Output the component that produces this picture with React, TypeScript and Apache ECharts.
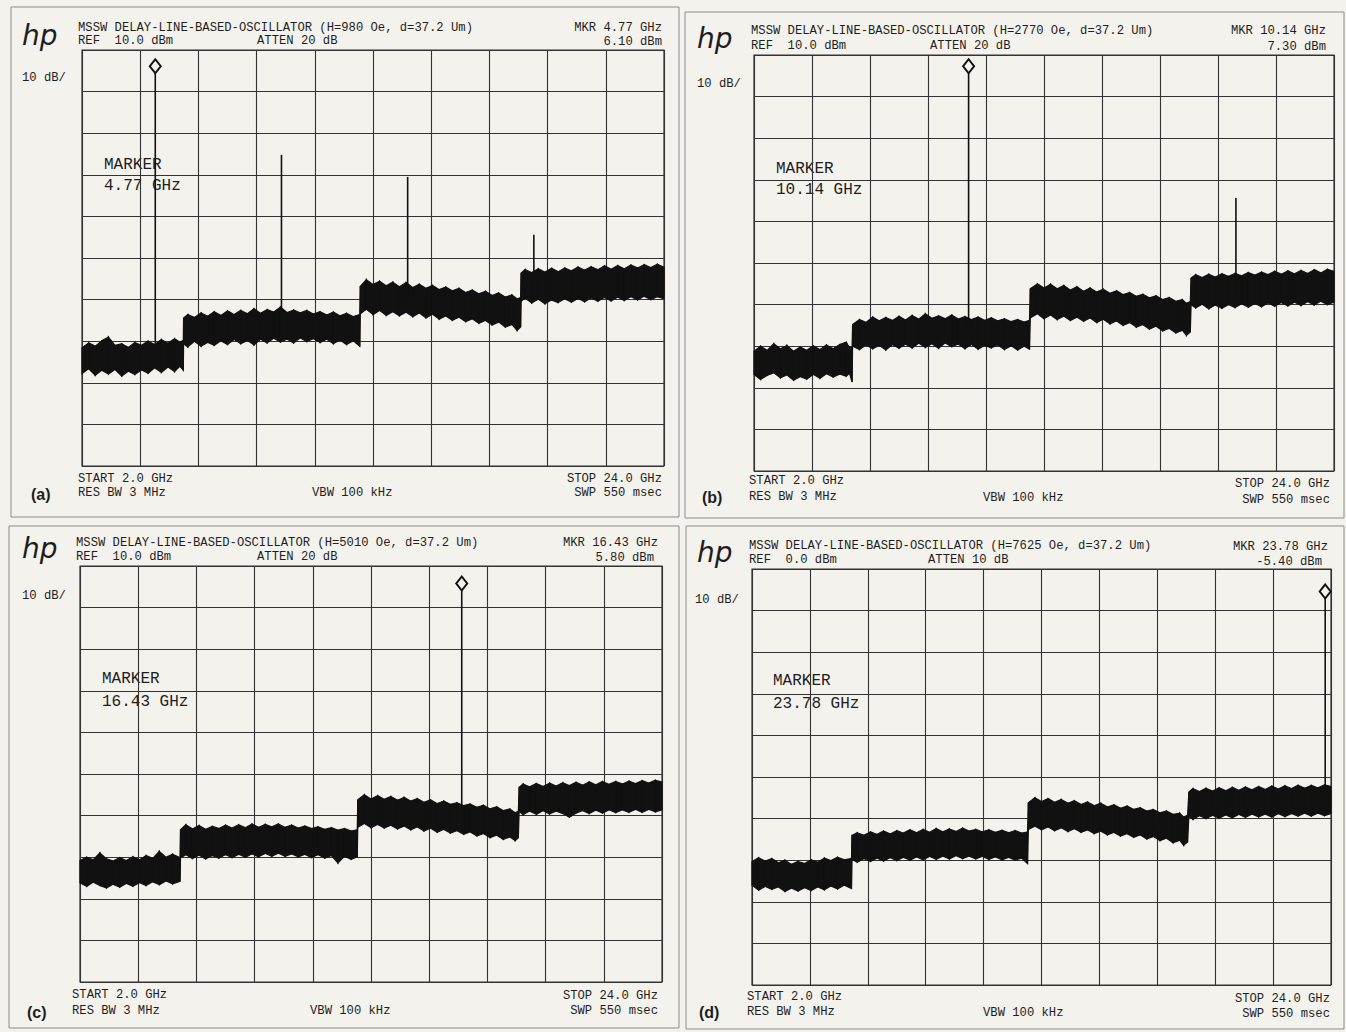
import React, { useEffect, useRef } from "react";
import * as echarts from "echarts";

// ---------- DATA ----------
const START_GHZ = 2;
const STOP_GHZ = 24;
const refLevels = [10, 10, 10, 0];

// noise-band envelope of each trace: [GHz, lower dBm, upper dBm]
const traceA: number[][] = [
  [2.0, -67.8, -61.6], [2.25, -66.6, -60.4], [2.5, -68.2, -61.2], [2.75, -67.0, -59.9], [3.0, -67.9, -59.0],
  [3.25, -66.8, -61.0], [3.5, -68.4, -60.6], [3.75, -67.2, -61.5], [4.0, -68.0, -60.3], [4.25, -66.9, -61.0],
  [4.5, -67.7, -60.0], [4.75, -66.4, -60.8], [5.0, -67.5, -59.6], [5.25, -66.2, -60.5], [5.5, -67.3, -59.4],
  [5.7, -66.0, -60.2], [5.83, -67.0, -59.8],
  [5.84, -60.6, -54.4], [6.0, -61.4, -53.6], [6.25, -60.0, -54.3], [6.5, -61.2, -53.2], [6.75, -60.3, -54.0],
  [7.0, -61.0, -52.9], [7.25, -59.9, -53.8], [7.5, -60.8, -52.7], [7.75, -59.6, -53.6], [8.0, -60.6, -52.6],
  [8.25, -59.8, -53.4], [8.5, -60.9, -52.2], [8.75, -59.5, -53.3], [9.0, -60.4, -52.4], [9.25, -59.3, -53.0],
  [9.5, -60.2, -51.8], [9.75, -59.5, -53.1], [10.0, -60.4, -52.5], [10.25, -59.2, -53.2], [10.5, -60.1, -52.6],
  [10.75, -59.4, -53.5], [11.0, -60.3, -52.9], [11.25, -59.5, -53.7], [11.5, -60.6, -53.0], [11.75, -59.7, -53.9],
  [12.0, -60.8, -53.3], [12.25, -59.9, -54.1], [12.5, -61.2, -53.6],
  [12.52, -53.4, -46.8], [12.75, -52.3, -45.2], [13.0, -53.6, -46.4], [13.25, -52.6, -45.6], [13.5, -53.8, -46.7],
  [13.75, -52.9, -45.8], [14.0, -53.9, -46.9], [14.25, -53.0, -45.9], [14.5, -54.1, -47.1], [14.75, -53.2, -46.3],
  [15.0, -54.4, -47.3], [15.25, -53.5, -46.6], [15.5, -54.7, -47.6], [15.75, -53.9, -47.0], [16.0, -55.0, -47.9],
  [16.25, -54.2, -47.3], [16.5, -55.3, -48.3], [16.75, -54.6, -47.7], [17.0, -55.7, -48.6], [17.25, -55.0, -48.0],
  [17.5, -56.1, -49.0], [17.75, -55.4, -48.4], [18.0, -56.6, -49.4], [18.25, -56.0, -48.9], [18.45, -57.4, -49.8],
  [18.58, -56.6, -49.5],
  [18.6, -50.4, -43.6], [18.75, -49.6, -42.8], [19.0, -50.8, -43.5], [19.25, -49.9, -42.6], [19.5, -51.0, -43.4],
  [19.75, -50.1, -42.5], [20.0, -50.7, -43.3], [20.25, -49.8, -42.4], [20.5, -50.6, -43.1], [20.75, -49.7, -42.2],
  [21.0, -50.5, -42.9], [21.25, -49.6, -42.1], [21.5, -50.4, -42.8], [21.75, -49.5, -41.9], [22.0, -50.3, -42.7],
  [22.25, -49.4, -41.8], [22.5, -50.2, -42.6], [22.75, -49.3, -41.7], [23.0, -50.1, -42.4], [23.25, -49.2, -41.6],
  [23.5, -50.0, -42.3], [23.75, -49.3, -41.5], [24.0, -49.8, -42.2],
];

const traceB: number[][] = [
  [2.0, -66.8, -61.2], [2.25, -68.0, -60.0], [2.5, -67.0, -61.0], [2.75, -66.4, -59.4], [3.0, -67.6, -60.6],
  [3.25, -66.9, -59.8], [3.5, -68.2, -61.2], [3.75, -67.3, -60.2], [4.0, -67.9, -61.0], [4.25, -66.8, -59.9],
  [4.5, -67.7, -60.8], [4.75, -66.6, -59.7], [5.0, -67.4, -60.6], [5.25, -66.7, -59.6], [5.5, -67.2, -59.0],
  [5.62, -66.5, -60.4], [5.72, -68.6, -60.2],
  [5.74, -60.0, -54.8], [6.0, -60.8, -53.6], [6.25, -59.7, -54.3], [6.5, -60.6, -53.0], [6.75, -59.8, -53.9],
  [7.0, -60.9, -53.1], [7.25, -59.6, -53.8], [7.5, -60.5, -52.8], [7.75, -59.5, -53.7], [8.0, -60.4, -52.6],
  [8.25, -59.3, -53.5], [8.5, -60.3, -52.2], [8.75, -59.4, -53.3], [9.0, -60.5, -52.7], [9.25, -59.2, -53.4],
  [9.5, -60.1, -52.5], [9.75, -59.5, -53.5], [10.0, -60.6, -52.9], [10.25, -59.6, -53.6], [10.5, -60.7, -53.0],
  [10.75, -59.8, -53.8], [11.0, -60.4, -53.2], [11.25, -59.7, -53.9], [11.5, -60.8, -53.4], [11.75, -59.9, -54.1],
  [12.0, -60.9, -53.6], [12.25, -60.0, -54.2], [12.45, -60.7, -53.8],
  [12.48, -53.2, -46.2], [12.75, -52.2, -45.0], [13.0, -53.4, -46.0], [13.25, -52.5, -45.1], [13.5, -53.6, -46.2],
  [13.75, -52.8, -45.4], [14.0, -53.8, -46.5], [14.25, -53.0, -45.7], [14.5, -54.0, -46.8], [14.75, -53.2, -46.0],
  [15.0, -54.3, -47.0], [15.25, -53.5, -46.3], [15.5, -54.6, -47.3], [15.75, -53.9, -46.7], [16.0, -55.0, -47.6],
  [16.25, -54.3, -47.1], [16.5, -55.4, -48.0], [16.75, -54.8, -47.5], [17.0, -55.9, -48.4], [17.25, -55.2, -47.9],
  [17.5, -56.3, -48.8], [17.75, -55.7, -48.3], [18.0, -56.8, -49.2], [18.25, -56.2, -48.8], [18.4, -57.4, -49.7],
  [18.55, -56.6, -49.3],
  [18.58, -50.0, -43.6], [18.75, -50.8, -42.8], [19.0, -49.9, -43.5], [19.25, -51.0, -42.7], [19.5, -50.1, -43.4],
  [19.75, -50.9, -42.6], [20.0, -50.0, -43.2], [20.25, -50.7, -42.5], [20.5, -49.8, -43.1], [20.75, -50.6, -42.3],
  [21.0, -49.7, -42.9], [21.25, -50.5, -42.2], [21.5, -49.6, -42.8], [21.75, -50.4, -42.0], [22.0, -49.5, -42.7],
  [22.25, -50.3, -41.9], [22.5, -49.4, -42.6], [22.75, -50.2, -41.8], [23.0, -49.3, -42.5], [23.25, -50.1, -41.6],
  [23.5, -49.2, -42.4], [23.75, -50.0, -41.5], [24.0, -49.4, -42.0],
];

const traceC: number[][] = [
  [2.0, -66.2, -60.8], [2.25, -67.0, -60.0], [2.5, -66.0, -60.6], [2.75, -66.8, -59.0], [3.0, -67.4, -60.4],
  [3.25, -66.5, -60.9], [3.5, -67.2, -60.1], [3.75, -66.3, -60.8], [4.0, -67.0, -59.9], [4.25, -66.1, -60.6],
  [4.5, -66.8, -59.6], [4.75, -65.9, -60.3], [5.0, -66.6, -58.6], [5.25, -65.7, -60.0], [5.5, -66.4, -59.3],
  [5.78, -65.8, -60.1],
  [5.8, -60.2, -53.4], [6.0, -59.4, -52.2], [6.25, -60.3, -53.2], [6.5, -59.5, -52.4], [6.75, -60.4, -53.3],
  [7.0, -59.6, -52.6], [7.25, -60.2, -53.1], [7.5, -59.4, -52.3], [7.75, -60.1, -53.0], [8.0, -59.3, -52.2],
  [8.25, -60.0, -52.9], [8.5, -59.2, -52.0], [8.75, -59.9, -52.8], [9.0, -59.1, -52.1], [9.25, -59.8, -52.7],
  [9.5, -59.0, -52.0], [9.75, -59.8, -52.8], [10.0, -59.2, -52.3], [10.25, -59.9, -53.0], [10.5, -59.3, -52.5],
  [10.75, -60.1, -53.1], [11.0, -59.4, -52.7], [11.25, -60.2, -53.3], [11.5, -59.6, -52.9], [11.75, -61.4, -53.5],
  [12.0, -59.8, -53.1], [12.25, -60.5, -53.7], [12.48, -59.9, -53.4],
  [12.5, -52.8, -46.2], [12.75, -51.9, -45.0], [13.0, -52.9, -46.0], [13.25, -52.1, -45.2], [13.5, -53.0, -46.1],
  [13.75, -52.3, -45.4], [14.0, -53.2, -46.3], [14.25, -52.5, -45.6], [14.5, -53.4, -46.5], [14.75, -52.7, -45.9],
  [15.0, -53.7, -46.8], [15.25, -53.0, -46.2], [15.5, -54.0, -47.1], [15.75, -53.3, -46.5], [16.0, -54.2, -47.3],
  [16.25, -53.6, -46.9], [16.5, -54.5, -47.6], [16.75, -53.9, -47.2], [17.0, -54.9, -48.0], [17.25, -54.3, -47.5],
  [17.5, -55.3, -48.4], [17.75, -54.7, -47.9], [18.0, -55.7, -48.8], [18.25, -55.1, -48.4], [18.45, -56.0, -49.3],
  [18.57, -55.3, -48.9],
  [18.6, -49.0, -43.2], [18.75, -49.8, -42.4], [19.0, -48.9, -43.1], [19.25, -49.7, -42.3], [19.5, -48.8, -43.0],
  [19.75, -49.6, -42.2], [20.0, -48.9, -42.9], [20.25, -49.5, -42.1], [20.5, -50.4, -42.8], [20.75, -49.4, -42.0],
  [21.0, -48.8, -42.7], [21.25, -49.5, -41.9], [21.5, -48.7, -42.6], [21.75, -49.4, -41.8], [22.0, -48.6, -42.5],
  [22.25, -49.3, -41.8], [22.5, -48.6, -42.4], [22.75, -49.2, -41.7], [23.0, -48.5, -42.3], [23.25, -49.2, -41.6],
  [23.5, -48.5, -42.2], [23.75, -49.1, -41.5], [24.0, -48.6, -41.9],
];

const traceD: number[][] = [
  [2.0, -76.0, -70.4], [2.25, -77.2, -69.4], [2.5, -76.3, -70.2], [2.75, -77.0, -69.6], [3.0, -76.4, -70.6],
  [3.25, -77.5, -70.0], [3.5, -76.7, -71.0], [3.75, -77.4, -70.3], [4.0, -76.6, -70.8], [4.25, -77.3, -69.9],
  [4.5, -76.4, -70.5], [4.75, -77.1, -69.5], [5.0, -76.2, -70.1], [5.25, -76.9, -69.3], [5.5, -76.0, -69.9],
  [5.78, -76.8, -69.6],
  [5.8, -69.8, -64.0], [6.0, -70.5, -63.4], [6.25, -69.6, -64.0], [6.5, -70.3, -63.2], [6.75, -69.5, -63.8],
  [7.0, -70.2, -63.0], [7.25, -69.4, -63.7], [7.5, -70.1, -62.9], [7.75, -69.3, -63.5], [8.0, -70.0, -62.7],
  [8.25, -69.2, -63.4], [8.5, -69.9, -62.6], [8.75, -69.1, -63.3], [9.0, -69.8, -62.4], [9.25, -69.0, -63.2],
  [9.5, -69.7, -62.5], [9.75, -68.9, -63.1], [10.0, -69.6, -62.3], [10.25, -69.0, -63.0], [10.5, -69.7, -62.6],
  [10.75, -69.1, -63.2], [11.0, -69.8, -62.7], [11.25, -69.2, -63.3], [11.5, -69.9, -62.8], [11.75, -69.3, -63.4],
  [12.0, -70.0, -62.9], [12.25, -69.5, -63.5], [12.47, -70.8, -63.2],
  [12.5, -62.6, -56.2], [12.75, -61.8, -55.0], [13.0, -62.7, -55.9], [13.25, -62.0, -55.2], [13.5, -62.9, -56.1],
  [13.75, -62.2, -55.4], [14.0, -63.1, -56.3], [14.25, -62.4, -55.7], [14.5, -63.3, -56.6], [14.75, -62.7, -56.0],
  [15.0, -63.6, -56.9], [15.25, -63.0, -56.3], [15.5, -63.9, -57.2], [15.75, -63.3, -56.7], [16.0, -64.2, -57.5],
  [16.25, -63.6, -57.0], [16.5, -64.5, -57.8], [16.75, -63.9, -57.4], [17.0, -64.9, -58.2], [17.25, -64.3, -57.8],
  [17.5, -65.3, -58.6], [17.75, -64.7, -58.2], [18.0, -65.8, -59.0], [18.25, -65.2, -58.7], [18.4, -66.4, -59.6],
  [18.55, -65.6, -59.2],
  [18.6, -59.5, -53.6], [18.75, -60.2, -52.8], [19.0, -59.3, -53.5], [19.25, -60.0, -52.7], [19.5, -59.2, -53.4],
  [19.75, -59.9, -52.6], [20.0, -59.1, -53.3], [20.25, -59.8, -52.5], [20.5, -59.0, -53.2], [20.75, -59.7, -52.4],
  [21.0, -58.9, -53.1], [21.25, -59.6, -52.3], [21.5, -58.9, -53.0], [21.75, -59.6, -52.2], [22.0, -58.8, -52.9],
  [22.25, -59.5, -52.1], [22.5, -58.8, -52.8], [22.75, -59.4, -52.0], [23.0, -58.7, -52.7], [23.25, -59.4, -52.0],
  [23.5, -58.7, -52.6], [23.75, -59.3, -51.9], [24.0, -58.8, -52.3],
];

// harmonic spikes: [GHz, base dBm, peak dBm]
const spikesA: number[][] = [[9.54, -58, -15.2], [14.31, -50, -20.5], [19.08, -46, -34.4]];
const spikesB: number[][] = [[20.28, -48, -24.4]];
const spikesC: number[][] = [];
const spikesD: number[][] = [];

// marker: [GHz, base dBm, peak dBm]
const markerA = [4.77, -64, 6.1];
const markerB = [10.14, -57, 7.3];
const markerC = [16.43, -48, 5.8];
const markerD = [23.78, -56, -5.4];

const titles = [
  "MSSW DELAY-LINE-BASED-OSCILLATOR (H=980 Oe, d=37.2 Um)",
  "MSSW DELAY-LINE-BASED-OSCILLATOR (H=2770 Oe, d=37.2 Um)",
  "MSSW DELAY-LINE-BASED-OSCILLATOR (H=5010 Oe, d=37.2 Um)",
  "MSSW DELAY-LINE-BASED-OSCILLATOR (H=7625 Oe, d=37.2 Um)",
];
const refTexts = ["REF  10.0 dBm", "REF  10.0 dBm", "REF  10.0 dBm", "REF  0.0 dBm"];
const attenTexts = ["ATTEN 20 dB", "ATTEN 20 dB", "ATTEN 20 dB", "ATTEN 10 dB"];
const mkrFreqTexts = ["MKR 4.77 GHz", "MKR 10.14 GHz", "MKR 16.43 GHz", "MKR 23.78 GHz"];
const mkrLevelTexts = ["6.10 dBm", "7.30 dBm", "5.80 dBm", "-5.40 dBm"];
const markerTexts = ["4.77 GHz", "10.14 GHz", "16.43 GHz", "23.78 GHz"];
const panelLabels = ["(a)", "(b)", "(c)", "(d)"];

// ---------- LAYOUT ----------
const layouts = [
  {
    frame: [11, 7, 668, 510], grid: [82, 50, 582, 416], hp: [22, 35], title: [78, 28], ref: [78, 41], atten: [257, 41],
    mkrR: [662, 28], mkrL: [662, 42], dbdiv: [22, 78], start: [78, 479], res: [78, 493], vbw: [312, 493],
    stop: [662, 479], swp: [662, 493], label: [31, 494], marker: [104, 165], markerF: [104, 186],
  },
  {
    frame: [685, 12, 659, 506], grid: [754, 55, 580, 416], hp: [697, 38], title: [751, 31], ref: [751, 46], atten: [930, 46],
    mkrR: [1326, 31], mkrL: [1326, 47], dbdiv: [697, 84], start: [749, 481], res: [749, 497], vbw: [983, 498],
    stop: [1330, 484], swp: [1330, 500], label: [702, 497], marker: [776, 169], markerF: [776, 190],
  },
  {
    frame: [9, 526, 670, 502], grid: [80, 566, 582, 416], hp: [22, 548], title: [76, 543], ref: [76, 557], atten: [257, 557],
    mkrR: [658, 543], mkrL: [654, 558], dbdiv: [22, 596], start: [72, 995], res: [72, 1011], vbw: [310, 1011],
    stop: [658, 996], swp: [658, 1011], label: [27, 1012], marker: [102, 679], markerF: [102, 702],
  },
  {
    frame: [686, 526, 658, 503], grid: [752, 569, 579, 416], hp: [697, 552], title: [749, 546], ref: [749, 560], atten: [928, 560],
    mkrR: [1328, 547], mkrL: [1322, 562], dbdiv: [695, 600], start: [747, 997], res: [747, 1012], vbw: [983, 1013],
    stop: [1330, 999], swp: [1330, 1014], label: [699, 1012], marker: [773, 681], markerF: [773, 704],
  },
];

const PAPER = "#f4f2ed";
const INK = "#111111";
const GRID = "#333333";
const TEXT = "#1e1e1e";
const MONO = '"Liberation Mono", "DejaVu Sans Mono", monospace';

function txt(x: number, y: number, text: string, size: number, align = "left", family = MONO, weight = "normal", style = "normal") {
  return {
    type: "text",
    x,
    y,
    silent: true,
    style: {
      text,
      fill: TEXT,
      font: `${style} ${weight} ${size}px ${family}`,
      textAlign: align,
      align,
      textVerticalAlign: "middle",
      verticalAlign: "middle",
    },
  };
}

function buildOption() {
  const traces = [traceA, traceB, traceC, traceD];
  const spikes = [spikesA, spikesB, spikesC, spikesD];
  const markers = [markerA, markerB, markerC, markerD];

  const grids: any[] = [];
  const xAxes: any[] = [];
  const yAxes: any[] = [];
  const series: any[] = [];
  const graphics: any[] = [];

  layouts.forEach((L, i) => {
    const [gl, gt, gw, gh] = L.grid;
    grids.push({ left: gl, top: gt, width: gw, height: gh, show: true, borderColor: GRID, borderWidth: 1.2, backgroundColor: "transparent" });
    // graticule axis (10 divisions)
    xAxes.push({
      gridIndex: i, type: "value", min: 0, max: 10, interval: 1,
      axisLabel: { show: false }, axisTick: { show: false }, axisLine: { show: false },
      splitLine: { show: true, lineStyle: { color: GRID, width: 1.1 } },
    });
    // frequency axis
    xAxes.push({ gridIndex: i, type: "value", min: START_GHZ, max: STOP_GHZ, show: false });
    yAxes.push({
      gridIndex: i, type: "value", min: refLevels[i] - 100, max: refLevels[i], interval: 10,
      axisLabel: { show: false }, axisTick: { show: false }, axisLine: { show: false },
      splitLine: { show: true, lineStyle: { color: GRID, width: 1.1 } },
    });

    const tr = traces[i];
    const segs: number[][] = [];
    for (let j = 0; j < tr.length - 1; j++) {
      segs.push([tr[j][0], tr[j][1], tr[j][2], tr[j + 1][0], tr[j + 1][1], tr[j + 1][2]]);
    }
    series.push({
      type: "custom",
      xAxisIndex: 2 * i + 1,
      yAxisIndex: i,
      data: segs,
      silent: true,
      z: 3,
      renderItem: (_p: any, api: any) => {
        const a = api.coord([api.value(0), api.value(2)]);
        const b = api.coord([api.value(3), api.value(5)]);
        const c = api.coord([api.value(3), api.value(4)]);
        const d = api.coord([api.value(0), api.value(1)]);
        return {
          type: "polygon",
          shape: { points: [a, b, c, d] },
          style: { fill: INK, stroke: INK, lineWidth: 1.2 },
        };
      },
    });

    const mk = markers[i];
    const spikeData = spikes[i].concat([mk]);
    series.push({
      type: "custom",
      xAxisIndex: 2 * i + 1,
      yAxisIndex: i,
      data: spikeData,
      silent: true,
      z: 4,
      renderItem: (_p: any, api: any) => {
        const p0 = api.coord([api.value(0), api.value(1)]);
        const p1 = api.coord([api.value(0), api.value(2)]);
        return {
          type: "line",
          shape: { x1: p0[0], y1: p0[1], x2: p1[0], y2: p1[1] },
          style: { stroke: INK, lineWidth: 1.6 },
        };
      },
    });
    series.push({
      type: "scatter",
      xAxisIndex: 2 * i + 1,
      yAxisIndex: i,
      data: [[mk[0], mk[2]]],
      symbol: "diamond",
      symbolSize: [11, 14],
      silent: true,
      z: 6,
      itemStyle: { color: PAPER, borderColor: INK, borderWidth: 2, opacity: 1 },
    });

    // frame
    const [fx, fy, fw, fh] = L.frame;
    graphics.push({ type: "rect", silent: true, z: 0, shape: { x: fx, y: fy, width: fw, height: fh }, style: { fill: "none", stroke: "#8c8c8c", lineWidth: 1 } });

    graphics.push(txt(L.hp[0], L.hp[1], "hp", 28, "left", '"DejaVu Sans", sans-serif', "normal", "italic"));
    graphics.push(txt(L.title[0], L.title[1], titles[i], 12.2));
    graphics.push(txt(L.ref[0], L.ref[1], refTexts[i], 12.2));
    graphics.push(txt(L.atten[0], L.atten[1], attenTexts[i], 12.2));
    graphics.push(txt(L.mkrR[0], L.mkrR[1], mkrFreqTexts[i], 12.2, "right"));
    graphics.push(txt(L.mkrL[0], L.mkrL[1], mkrLevelTexts[i], 12.2, "right"));
    graphics.push(txt(L.dbdiv[0], L.dbdiv[1], "10 dB/", 12.2));
    graphics.push(txt(L.start[0], L.start[1], "START 2.0 GHz", 12.2));
    graphics.push(txt(L.res[0], L.res[1], "RES BW 3 MHz", 12.2));
    graphics.push(txt(L.vbw[0], L.vbw[1], "VBW 100 kHz", 12.2));
    graphics.push(txt(L.stop[0], L.stop[1], "STOP 24.0 GHz", 12.2, "right"));
    graphics.push(txt(L.swp[0], L.swp[1], "SWP 550 msec", 12.2, "right"));
    graphics.push(txt(L.marker[0], L.marker[1], "MARKER", 16));
    graphics.push(txt(L.markerF[0], L.markerF[1], markerTexts[i], 16));
    graphics.push(txt(L.label[0], L.label[1], panelLabels[i], 16, "left", '"Liberation Sans", Arial, sans-serif', "bold"));
  });

  return {
    animation: false,
    backgroundColor: PAPER,
    grid: grids,
    xAxis: xAxes,
    yAxis: yAxes,
    series,
    graphic: { elements: graphics },
  };
}

export default function App() {
  const ref = useRef<HTMLDivElement>(null);
  useEffect(() => {
    if (!ref.current) return;
    const chart = echarts.init(ref.current, undefined, { renderer: "svg" });
    chart.setOption(buildOption() as any);
    return () => chart.dispose();
  }, []);
  return (
    <div
      ref={ref}
      style={{ position: "absolute", left: 0, top: 0, width: 1346, height: 1032, background: PAPER }}
    />
  );
}
